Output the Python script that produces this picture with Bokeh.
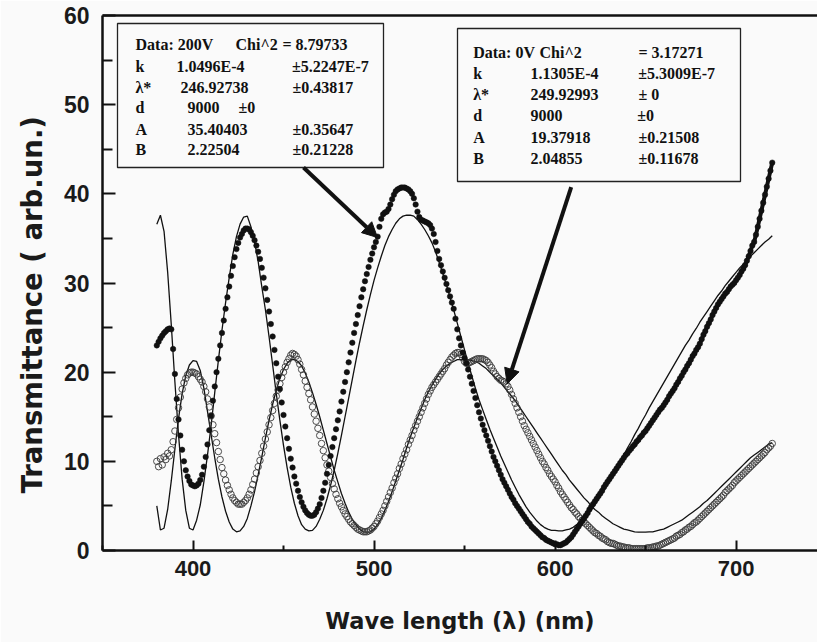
from bokeh.plotting import figure
from bokeh.models import (Range1d, LinearAxis, FixedTicker, BoxAnnotation,
                          Arrow, NormalHead, ColumnDataSource, Title)
from bokeh.embed import file_html
from bokeh.resources import INLINE
from bokeh.core.properties import value

# ---------------- data ----------------
wl_data = list(range(380, 721))          # nm, measured points
t_200v = [
    23.0, 23.4, 23.8, 24.1, 24.4, 24.6, 24.8, 24.9, 24.8, 22.6,
    19.8, 17.0, 14.7, 12.9, 11.3, 10.0, 9.0, 8.3, 7.8, 7.4,
    7.3, 7.2, 7.3, 7.5, 7.9, 8.5, 9.4, 10.5, 11.9, 13.5,
    15.1, 16.8, 18.4, 20.0, 21.5, 23.0, 24.4, 25.8, 27.1, 28.4,
    29.6, 30.8, 31.9, 32.9, 33.8, 34.5, 35.1, 35.5, 35.9, 36.1,
    36.1, 36.0, 35.7, 35.3, 34.8, 34.2, 33.5, 32.7, 31.7, 30.6,
    29.4, 28.1, 26.8, 25.4, 24.0, 22.5, 21.0, 19.5, 18.1, 16.6,
    15.2, 13.9, 12.6, 11.4, 10.3, 9.3, 8.3, 7.5, 6.7, 6.0,
    5.4, 4.9, 4.5, 4.2, 4.0, 3.9, 3.9, 4.0, 4.3, 4.7,
    5.2, 5.9, 6.7, 7.6, 8.6, 9.6, 10.6, 11.6, 12.6, 13.6,
    14.6, 15.6, 16.7, 17.8, 18.9, 20.0, 21.1, 22.2, 23.3, 24.4,
    25.4, 26.4, 27.4, 28.4, 29.3, 30.2, 31.0, 31.8, 32.6, 33.3,
    34.0, 34.6, 35.2, 36.3, 37.2, 37.7, 37.9, 38.0, 38.3, 38.8,
    39.4, 39.9, 40.3, 40.5, 40.6, 40.7, 40.7, 40.7, 40.6, 40.5,
    40.3, 40.0, 39.5, 38.8, 38.0, 37.4, 37.1, 37.0, 36.9, 36.8,
    36.7, 36.5, 36.1, 35.5, 34.6, 33.6, 32.7, 32.0, 31.3, 30.6,
    29.9, 29.2, 28.5, 27.8, 27.1, 26.0, 24.8, 23.8, 23.0, 22.2,
    21.6, 21.0, 20.3, 19.5, 18.7, 17.9, 17.1, 16.3, 15.5, 14.8,
    14.1, 13.5, 12.9, 12.3, 11.7, 11.1, 10.5, 10.0, 9.5, 9.0,
    8.5, 8.0, 7.6, 7.2, 6.8, 6.4, 6.0, 5.7, 5.3, 5.0,
    4.7, 4.4, 4.1, 3.8, 3.5, 3.2, 3.0, 2.7, 2.5, 2.3,
    2.1, 1.9, 1.7, 1.5, 1.4, 1.2, 1.1, 1.0, 0.9, 0.8,
    0.7, 0.7, 0.6, 0.6, 0.7, 0.8, 0.9, 1.1, 1.3, 1.5,
    1.8, 2.1, 2.4, 2.7, 3.0, 3.3, 3.6, 3.9, 4.2, 4.6,
    4.9, 5.2, 5.5, 5.8, 6.1, 6.4, 6.7, 7.1, 7.4, 7.7,
    8.0, 8.3, 8.6, 8.9, 9.2, 9.5, 9.8, 10.1, 10.4, 10.7,
    10.9, 11.2, 11.4, 11.7, 11.9, 12.2, 12.4, 12.7, 12.9, 13.2,
    13.4, 13.7, 14.0, 14.3, 14.6, 14.9, 15.2, 15.5, 15.8, 16.0,
    16.3, 16.6, 16.9, 17.3, 17.6, 17.9, 18.2, 18.6, 18.9, 19.3,
    19.6, 20.0, 20.3, 20.7, 21.0, 21.4, 21.8, 22.1, 22.5, 22.8,
    23.2, 23.7, 24.2, 24.6, 25.1, 25.5, 25.9, 26.4, 26.8, 27.2,
    27.6, 27.9, 28.2, 28.5, 28.8, 29.0, 29.3, 29.6, 29.8, 30.0,
    30.3, 30.6, 30.9, 31.3, 31.6, 32.0, 32.5, 33.0, 33.6, 34.2,
    34.6, 35.4, 36.3, 37.2, 38.1, 39.0, 39.9, 40.8, 41.7, 42.6,
    43.5,
]
t_0v = [
    10.0, 9.4, 10.3, 9.6, 10.5, 10.2, 10.9, 10.6, 11.3, 12.2,
    13.4, 14.7, 16.0, 17.2, 18.1, 18.8, 19.3, 19.7, 19.9, 20.0,
    20.0, 19.9, 19.8, 19.5, 19.2, 18.9, 18.4, 17.8, 17.0, 16.1,
    15.1, 14.1, 13.1, 12.1, 11.1, 10.2, 9.3, 8.6, 7.9, 7.3,
    6.8, 6.3, 5.9, 5.6, 5.4, 5.2, 5.2, 5.2, 5.4, 5.6,
    5.9, 6.3, 6.8, 7.4, 8.0, 8.7, 9.4, 10.1, 10.9, 11.7,
    12.5, 13.3, 14.1, 14.9, 15.7, 16.5, 17.3, 18.0, 18.7, 19.4,
    20.0, 20.6, 21.1, 21.5, 21.9, 22.1, 22.0, 21.8, 21.4, 20.9,
    20.3, 19.7, 19.0, 18.3, 17.6, 16.9, 16.1, 15.3, 14.5, 13.7,
    12.9, 12.0, 11.2, 10.4, 9.6, 8.9, 8.2, 7.5, 6.9, 6.3,
    5.8, 5.3, 4.9, 4.5, 4.1, 3.8, 3.5, 3.2, 3.0, 2.8,
    2.6, 2.4, 2.3, 2.2, 2.1, 2.1, 2.1, 2.2, 2.3, 2.5,
    2.7, 3.0, 3.3, 3.7, 4.1, 4.5, 5.0, 5.5, 6.0, 6.5,
    7.0, 7.6, 8.1, 8.6, 9.2, 9.7, 10.3, 10.8, 11.3, 11.9,
    12.4, 12.9, 13.5, 14.0, 14.5, 15.0, 15.5, 16.0, 16.5, 17.0,
    17.5, 17.9, 18.3, 18.6, 18.9, 19.2, 19.5, 19.8, 20.1, 20.4,
    20.8, 21.1, 21.4, 21.7, 21.9, 22.1, 22.2, 22.2, 22.0, 21.6,
    21.2, 21.0, 21.0, 21.1, 21.2, 21.3, 21.4, 21.5, 21.5, 21.5,
    21.5, 21.4, 21.3, 21.1, 20.8, 20.5, 20.1, 19.8, 19.5, 19.3,
    19.1, 19.0, 18.9, 18.7, 18.4, 18.0, 17.5, 17.0, 16.5, 16.0,
    15.5, 15.0, 14.5, 14.0, 13.6, 13.2, 12.8, 12.4, 12.0, 11.6,
    11.2, 10.8, 10.4, 10.0, 9.7, 9.3, 9.0, 8.6, 8.3, 8.0,
    7.7, 7.3, 7.0, 6.6, 6.3, 6.0, 5.7, 5.4, 5.1, 4.8,
    4.6, 4.3, 4.1, 3.8, 3.6, 3.4, 3.2, 3.0, 2.8, 2.6,
    2.4, 2.2, 2.0, 1.9, 1.7, 1.6, 1.4, 1.3, 1.2, 1.0,
    0.9, 0.8, 0.8, 0.7, 0.6, 0.5, 0.5, 0.4, 0.4, 0.3,
    0.3, 0.3, 0.2, 0.2, 0.2, 0.2, 0.2, 0.2, 0.2, 0.2,
    0.2, 0.3, 0.3, 0.3, 0.4, 0.4, 0.5, 0.5, 0.6, 0.7,
    0.8, 0.9, 1.0, 1.1, 1.2, 1.3, 1.4, 1.6, 1.7, 1.8,
    2.0, 2.1, 2.3, 2.4, 2.6, 2.7, 2.9, 3.1, 3.2, 3.4,
    3.6, 3.8, 4.0, 4.2, 4.4, 4.6, 4.8, 5.0, 5.2, 5.4,
    5.6, 5.8, 6.0, 6.2, 6.5, 6.7, 6.9, 7.1, 7.3, 7.6,
    7.8, 8.0, 8.2, 8.4, 8.6, 8.8, 9.0, 9.2, 9.4, 9.6,
    9.8, 10.0, 10.2, 10.4, 10.6, 10.8, 11.0, 11.3, 11.5, 11.7,
    12.0,
]
wl_fit = list(range(380, 721, 2))        # nm, fitted curves
fit_200v = [
    36.6, 37.6, 35.8, 31.2, 25.3, 18.9, 13.0, 8.0, 4.5, 2.5,
    2.3, 3.4, 5.1, 7.7, 10.7, 14.0, 17.7, 21.3, 24.7, 27.8,
    30.6, 33.2, 35.2, 36.6, 37.4, 37.5, 36.3, 34.6, 32.4, 29.6,
    27.0, 24.0, 20.8, 17.6, 14.6, 11.8, 9.3, 7.1, 5.3, 3.9,
    2.9, 2.4, 2.2, 2.25, 2.7, 3.5, 4.5, 5.8, 7.3, 9.0,
    10.9, 12.9, 15.0, 17.1, 19.2, 21.3, 23.3, 25.2, 27.0, 28.7,
    30.3, 31.7, 33.0, 34.2, 35.2, 36.0, 36.7, 37.2, 37.5, 37.6,
    37.6, 37.5, 37.1, 36.6, 36.0, 35.3, 34.5, 33.5, 32.3, 31.1,
    29.8, 28.4, 27.0, 25.5, 24.0, 22.5, 21.0, 19.6, 18.2, 16.9,
    15.8, 14.7, 13.6, 12.6, 11.6, 10.6, 9.7, 8.8, 7.9, 7.1,
    6.3, 5.6, 4.9, 4.3, 3.8, 3.3, 2.9, 2.6, 2.4, 2.25,
    2.25, 2.2, 2.2, 2.3, 2.4, 2.6, 2.9, 3.3, 3.7, 4.2,
    4.7, 5.2, 5.8, 6.4, 7.1, 7.8, 8.5, 9.2, 10.0, 10.7,
    11.5, 12.2, 13.0, 13.7, 14.5, 15.2, 16.0, 16.7, 17.4, 18.1,
    18.8, 19.5, 20.2, 20.9, 21.6, 22.3, 23.0, 23.6, 24.3, 24.9,
    25.6, 26.2, 26.8, 27.4, 28.0, 28.6, 29.1, 29.7, 30.2, 30.7,
    31.2, 31.7, 32.1, 32.6, 33.0, 33.4, 33.8, 34.2, 34.6, 34.9,
    35.3,
]
fit_0v = [
    5.0, 2.3, 2.5, 4.6, 7.8, 11.4, 14.8, 17.6, 19.6, 20.8,
    21.3, 21.2, 20.2, 18.2, 15.6, 13.0, 10.4, 8.0, 6.0, 4.4,
    3.2, 2.4, 2.1, 2.2, 2.7, 3.6, 5.0, 6.6, 8.5, 10.5,
    12.6, 14.6, 16.4, 18.0, 19.3, 20.3, 21.0, 21.4, 21.4, 21.2,
    20.7, 19.9, 18.9, 17.7, 16.4, 15.0, 13.5, 12.0, 10.5, 9.0,
    7.7, 6.4, 5.3, 4.3, 3.5, 2.9, 2.4, 2.1, 2.05, 2.1,
    2.4, 2.9, 3.6, 4.5, 5.5, 6.6, 7.8, 9.0, 10.2, 11.5,
    12.7, 13.8, 14.9, 15.9, 16.9, 17.8, 18.5, 19.2, 19.8, 20.3,
    20.7, 21.0, 21.2, 21.4, 21.4, 21.4, 21.4, 21.3, 21.2, 21.0,
    20.7, 20.4, 20.0, 19.6, 19.2, 18.8, 18.3, 17.8, 17.3, 16.8,
    16.2, 15.6, 15.0, 14.4, 13.8, 13.2, 12.6, 12.0, 11.4, 10.8,
    10.2, 9.6, 9.0, 8.5, 7.9, 7.4, 6.9, 6.4, 5.9, 5.5,
    5.0, 4.6, 4.3, 3.9, 3.6, 3.3, 3.0, 2.8, 2.6, 2.4,
    2.3, 2.2, 2.1, 2.05, 2.05, 2.05, 2.1, 2.1, 2.2, 2.3,
    2.4, 2.6, 2.8, 3.0, 3.2, 3.4, 3.7, 4.0, 4.3, 4.6,
    4.9, 5.3, 5.6, 6.0, 6.4, 6.8, 7.2, 7.6, 8.0, 8.4,
    8.8, 9.2, 9.6, 10.0, 10.4, 10.7, 11.0, 11.3, 11.6, 11.9,
    12.1,
]
x_major = [400, 500, 600, 700]
x_minor = [350, 450, 550, 650]
y_major = [0, 10, 20, 30, 40, 50, 60]
y_minor = [5, 15, 25, 35, 45, 55]

box_200v = [("Data: 200V", "Chi^2", "=", "8.79733"),
            ("k", "1.0496E-4", "±5.2247E-7"),
            ("λ*", "246.92738", "±0.43817"),
            ("d", "9000", "±0"),
            ("A", "35.40403", "±0.35647"),
            ("B", "2.22504", "±0.21228")]
box_0v = [("Data: 0V", "Chi^2", "= 3.17271"),
          ("k", "1.1305E-4", "±5.3009E-7"),
          ("λ*", "249.92993", "± 0"),
          ("d", "9000", "±0"),
          ("A", "19.37918", "±0.21508"),
          ("B", "2.04855", "±0.11678")]

assert len(wl_data) == len(t_200v) == len(t_0v)
assert len(wl_fit) == len(fit_200v) == len(fit_0v)

# ---------------- layout helpers (pixel -> data for annotations) ----------------
XR = (350, 745)
YR = (0, 60)
FL, FR, FT, FB = 102, 817, 15, 550
W, H = 817, 642
BG = "#fafafa"
INK = "#111111"


def dx(px):
    return XR[0] + (px - FL) * (XR[1] - XR[0]) / (FR - FL)


def dy(py):
    return YR[0] + (FB - py) * (YR[1] - YR[0]) / (FB - FT)


p = figure(width=W, height=H, x_range=Range1d(*XR), y_range=Range1d(*YR),
           output_backend="svg", toolbar_location=None,
           min_border_left=FL, min_border_right=W - FR,
           min_border_top=FT, min_border_bottom=H - FB)
p.background_fill_color = BG
p.border_fill_color = BG
p.outline_line_color = None
p.grid.visible = False

xa = p.xaxis[0]
xa.ticker = FixedTicker(ticks=x_major, minor_ticks=x_minor)
ya = p.yaxis[0]
ya.ticker = FixedTicker(ticks=y_major, minor_ticks=y_minor)
for ax in (xa, ya):
    ax.axis_line_width = 2.5
    ax.axis_line_color = INK
    ax.major_tick_out = 0
    ax.minor_tick_out = 0
    ax.major_tick_line_width = 2
    ax.minor_tick_line_width = 2
    ax.major_tick_line_color = INK
    ax.minor_tick_line_color = INK
    ax.major_label_text_font = "Liberation Sans"
    ax.major_label_text_font_style = "bold"
    ax.major_label_text_color = "#1a1a1a"
    ax.axis_label_text_font = "DejaVu Sans"
    ax.axis_label_text_font_style = "bold"
    ax.axis_label_text_color = "#1a1a1a"

xa.major_tick_in = 10
xa.minor_tick_in = 5
xa.major_label_text_font_size = "22px"
xa.major_label_standoff = 10
xa.axis_label = "Wave length (λ) (nm)"
xa.axis_label_text_font_size = "22.5px"
xa.axis_label_standoff = 29

ya.major_tick_in = 13
ya.minor_tick_in = 10
ya.major_label_text_font_size = "23px"
ya.major_label_standoff = 13

# y-axis title: a side title, so it can start where the reference's does
p.add_layout(Title(text="Transmittance ( arb.un.)", align="left", offset=57,
                   vertical_align="top",
                   text_font="DejaVu Sans", text_font_style="bold",
                   text_font_size="27.5px", text_color="#1a1a1a",
                   standoff=22), "left")

top = LinearAxis(ticker=FixedTicker(ticks=[]), major_label_text_font_size="0px",
                 axis_line_width=2.5, axis_line_color=INK,
                 major_tick_in=0, major_tick_out=0, minor_tick_in=0, minor_tick_out=0)
p.add_layout(top, "above")

# ---------------- series ----------------
p.line(wl_fit, fit_200v, line_width=1.3, line_color=INK)
p.line(wl_fit, fit_0v, line_width=1.3, line_color=INK)
p.scatter(wl_data, t_0v, marker="circle", size=6.5, fill_color=None,
          line_color="#3a3a3a", line_width=0.9)
# long-wavelength part of the 200V scan is so dense it reads as a solid thick trace
p.line(wl_data[215:], t_200v[215:], line_width=4, line_color=INK)
p.scatter(wl_data, t_200v, marker="circle", size=5.5, fill_color=INK,
          line_color=INK, line_width=0.5)

# ---------------- parameter boxes ----------------
p.add_layout(BoxAnnotation(left=dx(117), right=dx(383), top=dy(23), bottom=dy(167),
                           fill_alpha=0, line_color="#222222", line_alpha=1, line_width=1.3))
p.add_layout(BoxAnnotation(left=dx(457), right=dx(740), top=dy(28), bottom=dy(181),
                           fill_alpha=0, line_color="#222222", line_alpha=1, line_width=1.3))

rows1 = [44, 65.7, 86.7, 107.3, 129, 149]
cols1 = [[135, 235, 282, 295], [135, 176, 291.5], [135, 180, 292],
         [135, 187, 238], [135, 187, 292], [135, 187, 292]]
rows2 = [51.7, 73.3, 94, 115, 136.7, 158.3]
cols2 = [[472.7, 539, 638], [472.7, 530, 637.7], [472.7, 530, 638],
         [472.7, 530, 636.7], [472.7, 530, 638], [472.7, 530, 638]]

tx, ty, tt = [], [], []
for rows, cols, box in ((rows1, cols1, box_200v), (rows2, cols2, box_0v)):
    for r, c, items in zip(rows, cols, box):
        for cx, s in zip(c, items):
            tx.append(dx(cx))
            ty.append(dy(r))
            tt.append(s)
src = ColumnDataSource(dict(x=tx, y=ty, text=tt))
p.text(x="x", y="y", text="text", source=src, text_font=value("Liberation Serif"),
       text_font_style="bold", text_font_size="16px", text_baseline="middle",
       text_align="left", text_color=INK)

# ---------------- arrows ----------------
p.add_layout(Arrow(end=NormalHead(size=15, fill_color=INK, line_color=INK),
                   x_start=dx(303), y_start=dy(167), x_end=dx(377), y_end=dy(237),
                   line_width=4, line_color=INK))
p.add_layout(Arrow(end=NormalHead(size=15, fill_color=INK, line_color=INK),
                   x_start=dx(570.7), y_start=dy(186.7), x_end=dx(506.7), y_end=dy(383.3),
                   line_width=4, line_color=INK))

open("out.html", "w").write(file_html(p, INLINE))
